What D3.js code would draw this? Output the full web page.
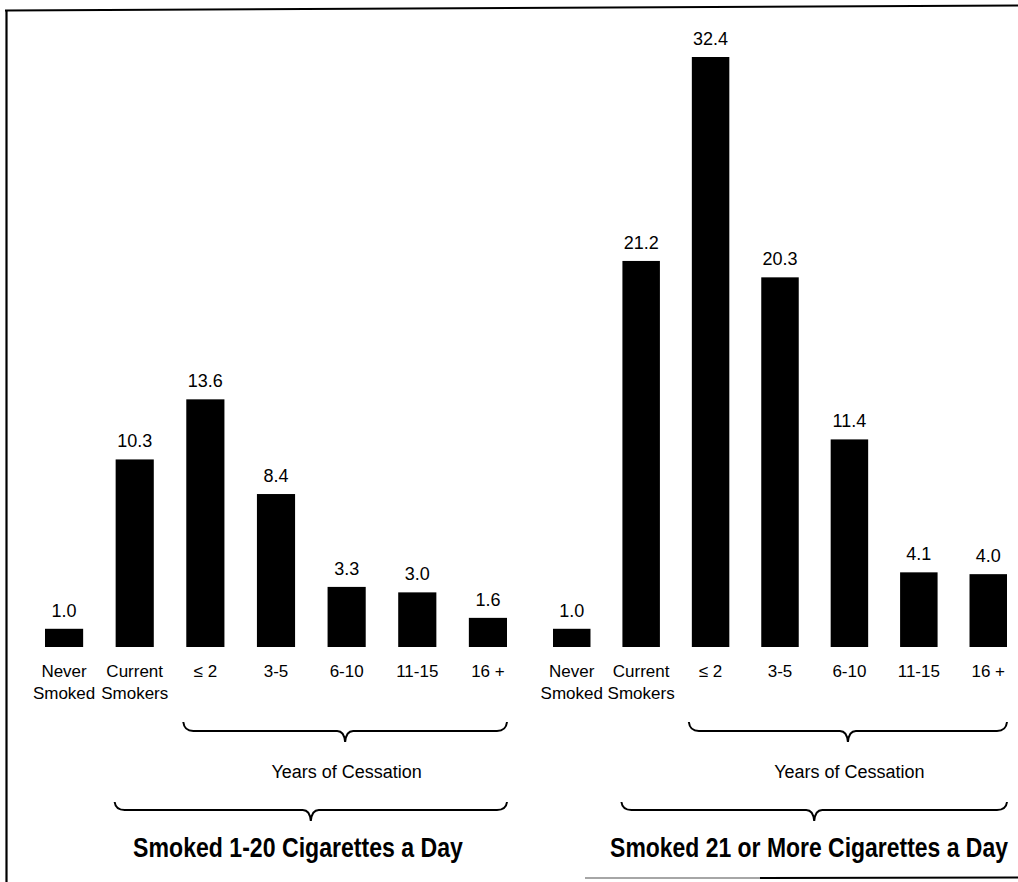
<!DOCTYPE html>
<html>
<head>
<meta charset="utf-8">
<script src="https://cdn.jsdelivr.net/npm/d3@7"></script>
<style>
  html, body { margin: 0; padding: 0; background: #fff; }
  svg { display: block; }
  text { font-family: "Liberation Sans", Arial, Helvetica, sans-serif; fill: #000; }
</style>
</head>
<body>
<svg id="chart" width="1018" height="882"></svg>
<script>
// ---- data ----
const categories = ["Never\nSmoked", "Current\nSmokers", "≤ 2", "3-5", "6-10", "11-15", "16 +"];
const lightSmokers = [1.0, 10.3, 13.6, 8.4, 3.3, 3.0, 1.6];   // 1-20 cigarettes a day
const heavySmokers = [1.0, 21.2, 32.4, 20.3, 11.4, 4.1, 4.0]; // 21+ cigarettes a day
const groupTitles = ["Smoked 1-20 Cigarettes a Day", "Smoked 21 or More Cigarettes a Day"];
const subTitle = "Years of Cessation";

// ---- layout ----
const svg = d3.select("#chart");
const baseY = 647;
const y = d3.scaleLinear().domain([0, 32.4]).range([baseY, 57]);

const groups = [
  { values: lightSmokers, range: [45, 507], title: groupTitles[0], titleX: 298, titleW: 330 },
  { values: heavySmokers, range: [553, 1007], title: groupTitles[1], titleX: 809, titleW: 398 }
];

// border of the scanned page
svg.append("line").attr("x1", 5).attr("y1", 10.5).attr("x2", 1018).attr("y2", 5.5)
  .attr("stroke", "#000").attr("stroke-width", 2.2);
svg.append("line").attr("x1", 6.5).attr("y1", 10).attr("x2", 6.5).attr("y2", 882)
  .attr("stroke", "#000").attr("stroke-width", 2.2);
svg.append("line").attr("x1", 585).attr("y1", 878).attr("x2", 760).attr("y2", 878)
  .attr("stroke", "#888").attr("stroke-width", 1.5);
svg.append("line").attr("x1", 760).attr("y1", 878).attr("x2", 1018).attr("y2", 877.5)
  .attr("stroke", "#000").attr("stroke-width", 2.2);

// curly brace: ends curl up, tip points down at the middle
function brace(x1, x2, yLine, rise, tip) {
  const xm = (x1 + x2) / 2;
  const r = 10;
  return `M${x1},${yLine - rise} Q${x1 + 1},${yLine} ${x1 + r},${yLine}`
    + ` L${xm - 8},${yLine} Q${xm - 1},${yLine} ${xm},${yLine + tip}`
    + ` Q${xm + 1},${yLine} ${xm + 8},${yLine}`
    + ` L${x2 - r},${yLine} Q${x2 - 1},${yLine} ${x2},${yLine - rise}`;
}

groups.forEach(g => {
  const x = d3.scaleBand().domain(categories).range(g.range).paddingInner(0.46).paddingOuter(0);
  const data = categories.map((c, i) => ({ c, v: g.values[i] }));
  const G = svg.append("g");

  G.selectAll("rect.bar").data(data).join("rect")
    .attr("class", "bar")
    .attr("x", d => x(d.c))
    .attr("y", d => y(d.v))
    .attr("width", x.bandwidth())
    .attr("height", d => baseY - y(d.v))
    .attr("fill", "#000");

  G.selectAll("text.val").data(data).join("text")
    .attr("class", "val")
    .attr("x", d => x(d.c) + x.bandwidth() / 2)
    .attr("y", d => y(d.v) - 12)
    .attr("text-anchor", "middle")
    .attr("font-size", 18)
    .text(d => d3.format(".1f")(d.v));

  const cat = G.selectAll("text.cat").data(data).join("text")
    .attr("class", "cat")
    .attr("text-anchor", "middle")
    .attr("font-size", 17)
    .attr("x", d => x(d.c) + x.bandwidth() / 2)
    .attr("y", 677);
  cat.each(function(d) {
    const lines = d.c.split("\n");
    d3.select(this).selectAll("tspan").data(lines).join("tspan")
      .attr("x", x(d.c) + x.bandwidth() / 2)
      .attr("dy", (l, i) => i === 0 ? 0 : 22)
      .text(l => l);
  });

  // brace over years of cessation
  const cx1 = x(categories[2]);
  const cx2 = x(categories[6]) + x.bandwidth();
  G.append("path").attr("d", brace(cx1 - 3, cx2, 731, 9, 11))
    .attr("fill", "none").attr("stroke", "#000").attr("stroke-width", 2);
  G.append("text").attr("x", (cx1 + cx2) / 2).attr("y", 778)
    .attr("text-anchor", "middle").attr("font-size", 18)
    .text(subTitle);

  // brace over smokers (current + former)
  const sx1 = x(categories[1]);
  G.append("path").attr("d", brace(sx1 - 1, cx2, 810, 8, 11))
    .attr("fill", "none").attr("stroke", "#000").attr("stroke-width", 2);

  // condensed bold title (horizontal scale to mimic a condensed typeface)
  const t = G.append("text")
    .attr("x", 0).attr("y", 0)
    .attr("text-anchor", "middle").attr("font-size", 27).attr("font-weight", "bold")
    .text(g.title);
  const natural = t.node().getComputedTextLength();
  const sx = g.titleW / natural;
  t.attr("transform", `translate(${g.titleX},857) scale(${sx},1)`);
});
</script>
</body>
</html>
